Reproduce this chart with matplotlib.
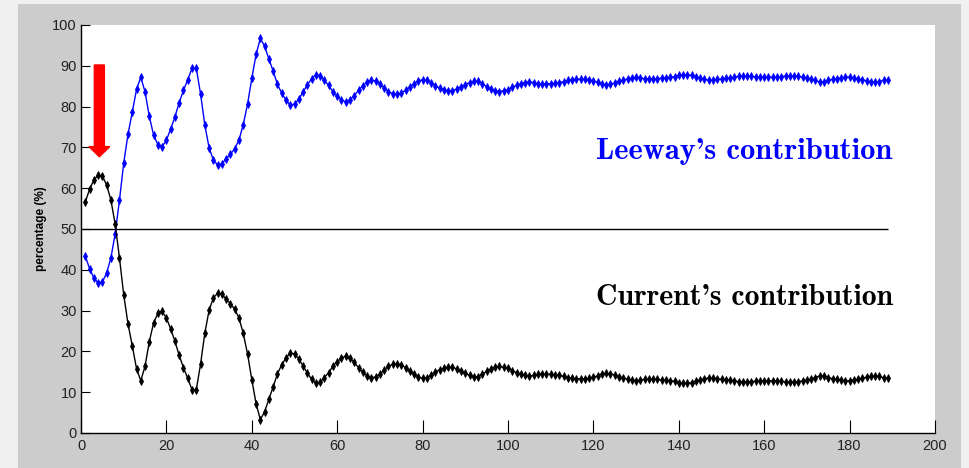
import matplotlib
matplotlib.use("Agg")
import matplotlib.pyplot as plt
from matplotlib.patches import Rectangle, FancyArrow
import numpy as np

steps = list(range(1, 190))

leeway = [
    43.4, 40.3, 38.0, 36.8, 37.0, 39.2, 42.9, 48.8, 57.0, 66.1,
    73.2, 78.6, 84.2, 87.2, 83.6, 77.6, 73.0, 70.7, 70.2, 71.8,
    74.5, 77.5, 81.0, 84.0, 86.6, 89.4, 89.4, 83.1, 75.5, 69.9,
    66.9, 65.7, 66.0, 67.2, 68.3, 69.7, 71.8, 75.6, 80.6, 86.9,
    92.8, 96.7, 94.8, 91.7, 88.7, 85.5, 83.3, 81.6, 80.4, 80.6,
    81.8, 83.6, 85.3, 86.8, 87.8, 87.6, 86.4, 85.2, 83.6, 82.5,
    81.7, 81.1, 81.7, 82.7, 84.0, 85.1, 86.0, 86.4, 86.3, 85.6,
    84.6, 83.6, 83.2, 83.0, 83.3, 84.0, 84.8, 85.6, 86.3, 86.6,
    86.4, 85.9, 85.1, 84.5, 84.1, 83.9, 83.9, 84.3, 84.9, 85.4,
    85.9, 86.2, 86.2, 85.6, 84.9, 84.3, 83.9, 83.7, 83.9, 84.1,
    84.7, 85.2, 85.6, 85.9, 86.1, 85.9, 85.6, 85.5, 85.6, 85.6,
    85.7, 85.9, 86.1, 86.4, 86.6, 86.7, 86.7, 86.7, 86.6, 86.3,
    86.0, 85.5, 85.4, 85.5, 85.8, 86.2, 86.5, 86.8, 87.0, 87.2,
    87.1, 86.8, 86.8, 86.8, 86.8, 87.0, 87.0, 87.2, 87.3, 87.7,
    87.8, 87.8, 87.7, 87.3, 87.0, 86.7, 86.5, 86.5, 86.7, 86.8,
    86.9, 87.0, 87.2, 87.4, 87.5, 87.4, 87.4, 87.3, 87.2, 87.2,
    87.2, 87.2, 87.2, 87.3, 87.5, 87.5, 87.5, 87.4, 87.2, 87.0,
    86.8, 86.4, 86.0, 86.0, 86.4, 86.7, 86.8, 87.0, 87.2, 87.2,
    87.0, 86.8, 86.6, 86.3, 86.1, 86.0, 86.1, 86.5, 86.5,
]

current = [
    56.6, 59.7, 62.0, 63.2, 63.0, 60.8, 57.1, 51.2, 43.0, 33.9,
    26.8, 21.4, 15.8, 12.8, 16.4, 22.4, 27.0, 29.3, 29.8, 28.2,
    25.5, 22.5, 19.0, 16.0, 13.4, 10.6, 10.6, 16.9, 24.5, 30.1,
    33.1, 34.3, 34.0, 32.8, 31.7, 30.3, 28.2, 24.4, 19.4, 13.1,
    7.2, 3.3, 5.2, 8.3, 11.3, 14.5, 16.7, 18.4, 19.6, 19.4,
    18.2, 16.4, 14.7, 13.2, 12.2, 12.4, 13.6, 14.8, 16.4, 17.5,
    18.3, 18.9, 18.3, 17.3, 16.0, 14.9, 14.0, 13.6, 13.7, 14.4,
    15.4, 16.4, 16.8, 17.0, 16.7, 16.0, 15.2, 14.4, 13.7, 13.4,
    13.6, 14.1, 14.9, 15.5, 15.9, 16.1, 16.1, 15.7, 15.1, 14.6,
    14.1, 13.8, 13.8, 14.4, 15.1, 15.7, 16.1, 16.3, 16.1, 15.9,
    15.3, 14.8, 14.4, 14.1, 13.9, 14.1, 14.4, 14.5, 14.4, 14.4,
    14.3, 14.1, 13.9, 13.6, 13.4, 13.3, 13.3, 13.3, 13.4, 13.7,
    14.0, 14.5, 14.6, 14.5, 14.2, 13.8, 13.5, 13.2, 13.0, 12.8,
    12.9, 13.2, 13.2, 13.2, 13.2, 13.0, 13.0, 12.8, 12.7, 12.3,
    12.2, 12.2, 12.3, 12.7, 13.0, 13.3, 13.5, 13.5, 13.3, 13.2,
    13.1, 13.0, 12.8, 12.6, 12.5, 12.6, 12.6, 12.7, 12.8, 12.8,
    12.8, 12.8, 12.8, 12.7, 12.5, 12.5, 12.5, 12.6, 12.8, 13.0,
    13.2, 13.6, 14.0, 14.0, 13.6, 13.3, 13.2, 13.0, 12.8, 12.8,
    13.0, 13.2, 13.4, 13.7, 13.9, 14.0, 13.9, 13.5, 13.5,
]

threshold = 50
x_ticks = [0, 20, 40, 60, 80, 100, 120, 140, 160, 180, 200]
y_ticks = [0, 10, 20, 30, 40, 50, 60, 70, 80, 90, 100]
leeway_label = "Leeway's contribution"
current_label = "Current's contribution"
arrow_x, arrow_top, arrow_tip = 4.3, 90.2, 67.7

W, H = 969, 468
fig = plt.figure(figsize=(W / 100, H / 100), dpi=100, facecolor="#f0f0f0")
fig.patches.append(Rectangle((18 / W, 0), 943 / W, 464 / H, transform=fig.transFigure,
                             facecolor="#cccccc", edgecolor="none", zorder=-10))

ax = fig.add_axes([81 / W, 35 / H, 854 / W, 408 / H])
ax.set_zorder(1)
ax.set_facecolor("white")

ax.plot(steps, leeway, color="#0000ff", lw=1.0, marker="d", ms=4.2,
        markeredgewidth=0.6, zorder=3)
ax.plot(steps, current, color="black", lw=1.0, marker="d", ms=4.2,
        markeredgewidth=0.6, zorder=3)
ax.hlines(threshold, 0, steps[-1], color="black", lw=1.0, zorder=2)

ax.add_patch(FancyArrow(arrow_x, arrow_top, 0, arrow_tip - arrow_top, width=2.35,
                        head_width=4.9, head_length=2.5, length_includes_head=True,
                        color="#ff0000", zorder=4))

ax.set_xlim(0, 200)
ax.set_ylim(0, 100)
ax.set_xticks(x_ticks)
ax.set_yticks(y_ticks)

tick_font = ["Liberation Sans Narrow", "Liberation Sans", "DejaVu Sans"]
ax.tick_params(axis="x", direction="in", length=9.5, width=0.8, pad=4)
ax.tick_params(axis="y", direction="in", length=6.5, width=0.8, pad=3)
for lab in ax.get_xticklabels() + ax.get_yticklabels():
    lab.set_family(tick_font)
    lab.set_fontsize(10.5)
    lab.set_color("#222222")
    lab.set_stretch("condensed")

for s in ["top", "right"]:
    ax.spines[s].set_visible(False)
for s in ["left", "bottom"]:
    ax.spines[s].set_linewidth(1.0)

ax.set_ylabel("percentage (%)", fontsize=8.5, fontweight="bold",
              family=["Liberation Sans", "DejaVu Sans"], labelpad=4)

ax.text(190.0, 67.2, leeway_label, color="#0000ff", family=["cmb10", "DejaVu Serif"],
        fontsize=22, ha="right", va="baseline")
ax.text(190.2, 31.4, current_label, color="black", family=["cmb10", "DejaVu Serif"],
        fontsize=21.4, ha="right", va="baseline")

fig.savefig("out.png", dpi=100, facecolor=fig.get_facecolor())
